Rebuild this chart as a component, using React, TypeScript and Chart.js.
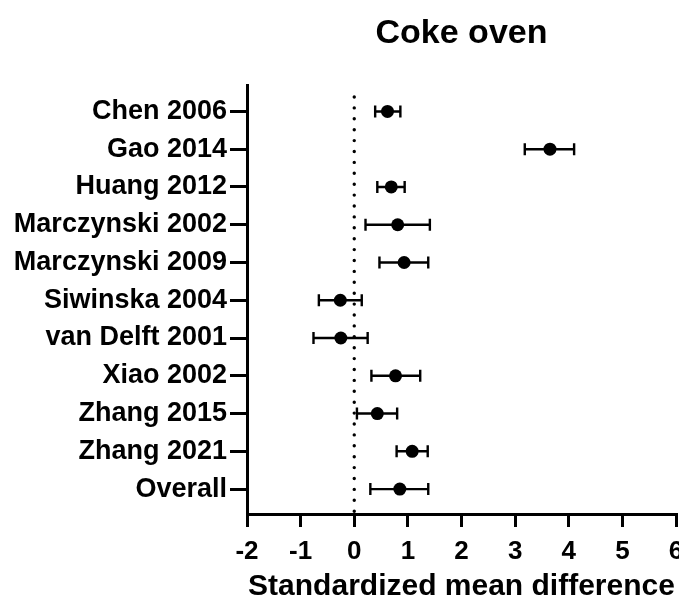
import React, { useEffect, useRef } from "react";
import { Chart, registerables } from "chart.js";

Chart.register(...registerables);

const studies = [
  "Chen 2006",
  "Gao 2014",
  "Huang 2012",
  "Marczynski 2002",
  "Marczynski 2009",
  "Siwinska 2004",
  "van Delft 2001",
  "Xiao 2002",
  "Zhang 2015",
  "Zhang 2021",
  "Overall",
];
const smd = [0.62, 3.65, 0.69, 0.81, 0.93, -0.26, -0.25, 0.77, 0.43, 1.08, 0.85];
const ciLower = [0.39, 3.18, 0.43, 0.21, 0.47, -0.66, -0.76, 0.32, 0.05, 0.79, 0.3];
const ciUpper = [0.86, 4.1, 0.94, 1.41, 1.38, 0.14, 0.25, 1.23, 0.8, 1.37, 1.38];
const xTicks = [-2, -1, 0, 1, 2, 3, 4, 5, 6];
const chartTitle = "Coke oven";
const xAxisTitle = "Standardized mean difference";

const FONT = "'Liberation Sans', Arial, Helvetica, sans-serif";

const forestPlugin = {
  id: "forestBars",
  beforeDatasetsDraw(chart: any) {
    const { ctx, chartArea } = chart;
    const x = chart.scales.x;
    const y = chart.scales.y;
    ctx.save();
    // dotted line of no effect
    const zx = x.getPixelForValue(0);
    ctx.beginPath();
    ctx.setLineDash([0, 10.9]);
    ctx.lineCap = "round";
    ctx.lineWidth = 3.4;
    ctx.strokeStyle = "#000";
    ctx.moveTo(zx, chartArea.top + 12);
    ctx.lineTo(zx, chartArea.bottom);
    ctx.stroke();
    // confidence intervals
    ctx.setLineDash([]);
    ctx.lineCap = "butt";
    ctx.lineWidth = 2.4;
    studies.forEach((_, i) => {
      const py = y.getPixelForValue(i + 1);
      const x1 = x.getPixelForValue(ciLower[i]);
      const x2 = x.getPixelForValue(ciUpper[i]);
      ctx.beginPath();
      ctx.moveTo(x1, py);
      ctx.lineTo(x2, py);
      ctx.moveTo(x1, py - 6);
      ctx.lineTo(x1, py + 6);
      ctx.moveTo(x2, py - 6);
      ctx.lineTo(x2, py + 6);
      ctx.stroke();
    });
    ctx.restore();
  },
};

export default function App() {
  const ref = useRef<HTMLCanvasElement>(null);

  useEffect(() => {
    if (!ref.current) return;
    Chart.defaults.font.family = FONT;
    const chart = new Chart(ref.current, {
      type: "scatter",
      data: {
        datasets: [
          {
            data: smd.map((v, i) => ({ x: v, y: i + 1 })),
            backgroundColor: "#000",
            borderWidth: 0,
            pointRadius: 6.5,
          },
        ],
      },
      options: {
        responsive: false,
        animation: false,
        events: [],
        layout: { padding: { left: 0, right: 24, top: 0, bottom: 0 } },
        plugins: {
          legend: { display: false },
          tooltip: { enabled: false },
          title: {
            display: true,
            text: chartTitle,
            fullSize: false,
            color: "#000",
            font: { size: 34, weight: "bold", family: FONT },
            padding: { top: 13.6, bottom: 30.6 },
          },
        },
        scales: {
          x: {
            type: "linear",
            min: -2,
            max: 6,
            afterBuildTicks: (s: any) => {
              s.ticks = xTicks.map((v) => ({ value: v }));
            },
            grid: { drawOnChartArea: false, tickLength: 13, lineWidth: 3, color: "#000" },
            border: { color: "#000", width: 3 },
            ticks: {
              color: "#000",
              padding: 9,
              autoSkip: false,
              maxRotation: 0,
              font: { size: 26, weight: "bold", family: FONT },
            },
            title: {
              display: true,
              text: xAxisTitle,
              color: "#000",
              font: { size: 30, weight: "bold", family: FONT },
              padding: { top: 0, bottom: 1 },
            },
            afterFit: (s: any) => {
              s.height = 92;
            },
          },
          y: {
            type: "linear",
            reverse: true,
            min: 0.3,
            max: 11.66,
            afterBuildTicks: (s: any) => {
              s.ticks = studies.map((_, i) => ({ value: i + 1 }));
            },
            grid: { drawOnChartArea: false, tickLength: 17, lineWidth: 3, color: "#000" },
            border: { color: "#000", width: 3 },
            ticks: {
              color: "#000",
              padding: 3,
              autoSkip: false,
              font: { size: 27, weight: "bold", family: FONT },
              callback: (v: any) => studies[Math.round(Number(v)) - 1] ?? "",
            },
            afterFit: (s: any) => {
              s.width = 247;
            },
          },
        },
      },
      plugins: [forestPlugin],
    });
    return () => chart.destroy();
  }, []);

  return (
    <div
      style={{
        position: "fixed",
        left: 0,
        top: 0,
        width: 679,
        height: 606,
        overflow: "hidden",
        background: "#fff",
      }}
    >
      <canvas ref={ref} width={700} height={606} style={{ display: "block" }} />
    </div>
  );
}
